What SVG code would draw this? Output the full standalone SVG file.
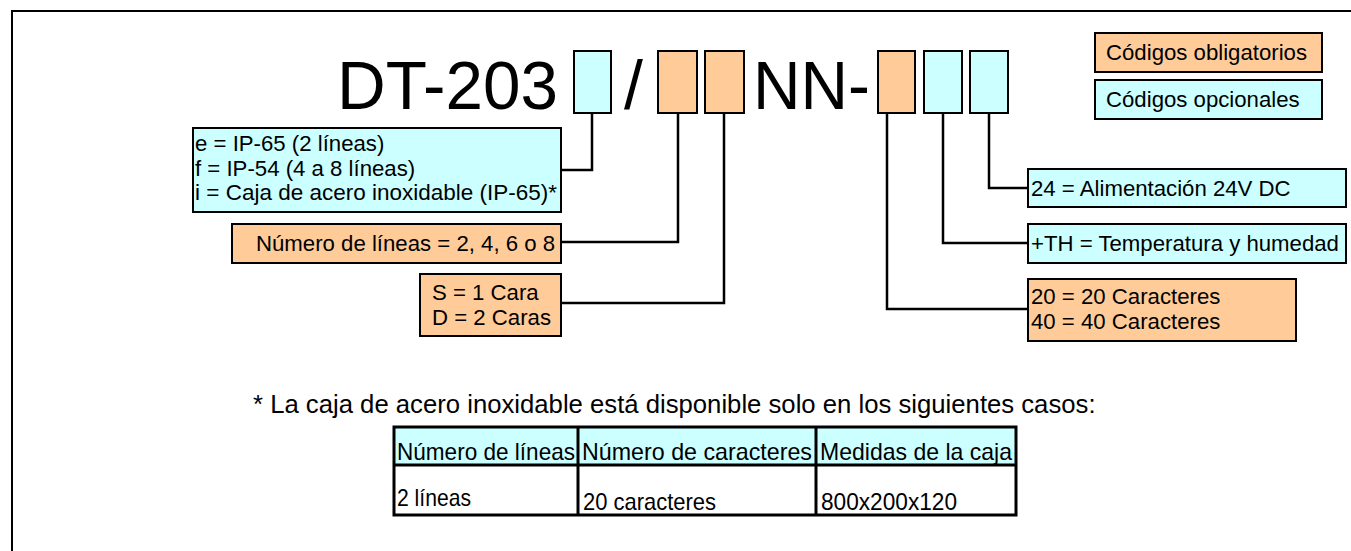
<svg xmlns="http://www.w3.org/2000/svg" width="1351" height="551" viewBox="0 0 1351 551">
<style>
text{font-family:"Liberation Sans",Arial,sans-serif;fill:#000}
.t{font-size:22.2px}
.big{font-size:68px}
.foot{font-size:25.7px}
.tb{font-size:24px}
.o{fill:#FFCC99;stroke:#000;stroke-width:2}
.c{fill:#CCFFFF;stroke:#000;stroke-width:2}
.ln{fill:none;stroke:#000;stroke-width:2.5}
.grid{fill:none;stroke:#000;stroke-width:3}
</style>
<rect width="1351" height="551" fill="#fff"/>
<rect x="12" y="11" width="1400" height="600" fill="none" stroke="#000" stroke-width="2"/>
<g id="title">
<text class="big" x="337" y="109" textLength="221" lengthAdjust="spacingAndGlyphs">DT-203</text>
<text class="big" x="624" y="109">/</text>
<text class="big" x="753" y="109" textLength="117" lengthAdjust="spacingAndGlyphs">NN-</text>
</g>
<g id="code1"><rect class="c" x="574" y="51" width="37" height="62"/></g>
<g id="code2"><rect class="o" x="658" y="51" width="39" height="62"/></g>
<g id="code3"><rect class="o" x="705" y="51" width="39" height="62"/></g>
<g id="code4"><rect class="o" x="878" y="51" width="37" height="62"/></g>
<g id="code5"><rect class="c" x="924" y="51" width="38" height="62"/></g>
<g id="code6"><rect class="c" x="970" y="51" width="38" height="62"/></g>
<g id="legend-obl"><rect class="o" x="1095" y="33" width="227" height="39"/><text class="t" x="1106" y="60">Códigos obligatorios</text></g>
<g id="legend-opc"><rect class="c" x="1095" y="80" width="227" height="39"/><text class="t" x="1106" y="107">Códigos opcionales</text></g>
<g id="box-ip"><rect class="c" x="193" y="128" width="368" height="84"/>
<text class="t" x="195" y="151">e = IP-65 (2 líneas)</text>
<text class="t" x="195" y="175.5">f = IP-54 (4 a 8 líneas)</text>
<text class="t" x="195" y="200" textLength="362" lengthAdjust="spacingAndGlyphs">i = Caja de acero inoxidable (IP-65)*</text></g>
<g id="box-lineas"><rect class="o" x="232" y="224" width="329" height="39"/><text class="t" x="256" y="251">Número de líneas = 2, 4, 6 o 8</text></g>
<g id="box-caras"><rect class="o" x="420" y="274" width="141" height="62"/>
<text class="t" x="432" y="300">S = 1 Cara</text>
<text class="t" x="432" y="325">D = 2 Caras</text></g>
<g id="box-24"><rect class="c" x="1028" y="169" width="318" height="38"/><text class="t" x="1031" y="196">24 = Alimentación 24V DC</text></g>
<g id="box-th"><rect class="c" x="1028" y="224" width="318" height="39"/><text class="t" x="1031" y="251">+TH = Temperatura y humedad</text></g>
<g id="box-car"><rect class="o" x="1028" y="279" width="268" height="62"/>
<text class="t" x="1031" y="304">20 = 20 Caracteres</text>
<text class="t" x="1031" y="329">40 = 40 Caracteres</text></g>
<g id="connectors">
<polyline class="ln" points="592,113 592,170 561,170"/>
<polyline class="ln" points="678,113 678,242 561,242"/>
<polyline class="ln" points="724,113 724,303 561,303"/>
<polyline class="ln" points="887,113 887,309 1028,309"/>
<polyline class="ln" points="943,113 943,243 1028,243"/>
<polyline class="ln" points="989,113 989,188 1028,188"/>
</g>
<g id="footnote"><text class="foot" x="253" y="413">* La caja de acero inoxidable está disponible solo en los siguientes casos:</text></g>
<g id="table">
<rect x="394" y="427" width="622" height="38" fill="#CCFFFF"/>
<rect x="394" y="427" width="622" height="88" class="grid"/>
<line class="grid" x1="394" y1="465" x2="1016" y2="465"/>
<line class="grid" x1="578" y1="427" x2="578" y2="515"/>
<line class="grid" x1="816" y1="427" x2="816" y2="515"/>
<text class="tb" x="397" y="460" textLength="178" lengthAdjust="spacingAndGlyphs">Número de líneas</text>
<text class="tb" x="582" y="460" textLength="230" lengthAdjust="spacingAndGlyphs">Número de caracteres</text>
<text class="tb" x="820" y="460" textLength="192" lengthAdjust="spacingAndGlyphs">Medidas de la caja</text>
<text class="tb" x="397" y="506" textLength="74" lengthAdjust="spacingAndGlyphs">2 líneas</text>
<text class="tb" x="583" y="510" textLength="133" lengthAdjust="spacingAndGlyphs">20 caracteres</text>
<text class="tb" x="821" y="510" textLength="136" lengthAdjust="spacingAndGlyphs">800x200x120</text>
</g>
</svg>
